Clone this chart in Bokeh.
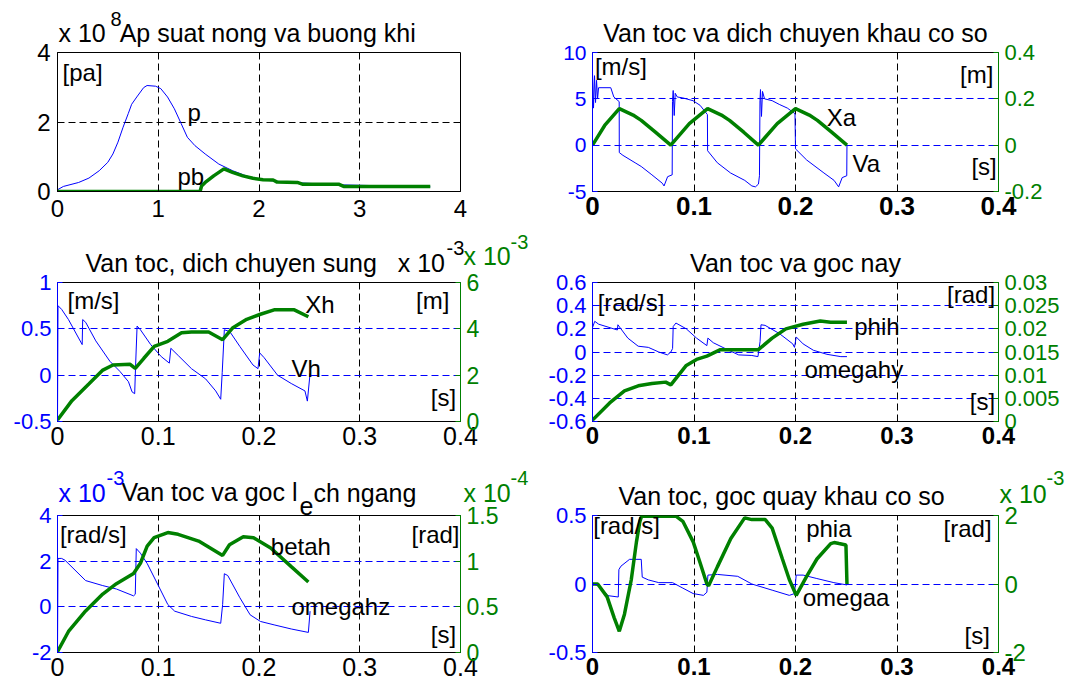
from bokeh.plotting import figure
from bokeh.models import Range1d, LinearAxis, FixedTicker, Label, Title
from bokeh.layouts import gridplot
from bokeh.embed import file_html
from bokeh.resources import INLINE

FONT = "Liberation Sans"
BLUE = "#0000ff"
GREEN = "#008000"
BLACK = "#000000"
NB = "\u00a0"

# ---------------- data ----------------
# Panel 1: pressure (x 1e8 Pa) vs time
p_t = [0.0, 0.058, 0.21, 0.312, 0.414, 0.499, 0.55, 0.60, 0.651, 0.702, 0.736, 0.787, 0.855, 0.889,
       0.974, 1.025, 1.092, 1.16, 1.228, 1.289, 1.364, 1.466, 1.601, 1.737, 1.873, 2.008, 2.31, 2.82, 3.70]
p_v = [0.05, 0.145, 0.26, 0.386, 0.598, 0.839, 1.08, 1.42, 1.85, 2.24, 2.51, 2.72, 2.99, 3.05,
       3.03, 2.96, 2.72, 2.38, 1.95, 1.56, 1.32, 1.08, 0.79, 0.60, 0.45, 0.34, 0.26, 0.19, 0.135]
pb_t = [0.0, 1.415, 1.43, 1.466, 1.55, 1.652, 1.737, 1.84, 1.94, 2.04, 2.14, 2.18, 2.38, 2.43, 2.79, 2.84, 3.70]
pb_v = [0.0, 0.0, 0.16, 0.26, 0.45, 0.65, 0.55, 0.45, 0.38, 0.34, 0.33, 0.27, 0.26, 0.21, 0.21, 0.145, 0.145]

# Panel 2: Va [m/s], Xa [m]
va_t = [0.0, 0.0, 0.001, 0.002, 0.003, 0.004, 0.005, 0.006, 0.018, 0.021, 0.0263, 0.0264, 0.030, 0.042,
        0.048, 0.0585, 0.0687, 0.0705, 0.074, 0.0785, 0.0788, 0.0795, 0.0805, 0.0815, 0.0835, 0.089, 0.099,
        0.106, 0.1132, 0.1134, 0.123, 0.136, 0.150, 0.157, 0.1605, 0.1635, 0.1645, 0.165, 0.1655, 0.1665,
        0.1675, 0.1695, 0.177, 0.184, 0.192, 0.1995, 0.2, 0.211, 0.228, 0.238, 0.2425, 0.246, 0.2505, 0.2507]
va_v = [-5.0, 7.8, 4.0, 7.5, 4.6, 7.0, 5.0, 6.2, 6.2, 5.2, 4.7, -0.8, -1.1, -1.9,
        -2.3, -3.2, -4.1, -4.4, -3.4, -3.2, 4.7, 5.9, 3.2, 5.6, 5.2, 5.1, 4.8,
        4.3, 3.3, -0.6, -1.9, -3.0, -3.8, -4.4, -4.5, -4.2, -3.3, 4.8, 6.0, 3.1,
        5.8, 5.0, 4.8, 4.4, 4.0, 3.4, -0.4, -1.6, -3.0, -3.8, -4.5, -3.5, -3.3, 0.0]
xa_t = [0.0, 0.012, 0.0264, 0.040, 0.048, 0.062, 0.0771, 0.0954, 0.1134, 0.127, 0.135, 0.149,
        0.1634, 0.182, 0.2, 0.2136, 0.2216, 0.2356, 0.2507]
xa_v = [0.0, 0.085, 0.158, 0.13, 0.107, 0.056, 0.0, 0.093, 0.158, 0.13, 0.107, 0.056,
        0.0, 0.093, 0.158, 0.13, 0.107, 0.056, 0.0]

# Panel 3: Vh [m/s], Xh [x 1e-3 m]
vh_t = [0.0, 0.0005, 0.0041, 0.0109, 0.0245, 0.025, 0.028, 0.038, 0.052, 0.062, 0.0704, 0.074, 0.0766,
        0.0775, 0.079, 0.0823, 0.0925, 0.103, 0.111, 0.1125, 0.12, 0.133, 0.147, 0.157, 0.162, 0.1635,
        0.1656, 0.171, 0.181, 0.194, 0.199, 0.2007, 0.205, 0.2184, 0.232, 0.2456, 0.248, 0.2507]
vh_v = [-0.5, 0.75, 0.71, 0.6, 0.33, 0.6, 0.57, 0.37, 0.15, 0.04, -0.07, -0.18, -0.2,
        0.1, 0.53, 0.49, 0.33, 0.2, 0.13, 0.29, 0.21, 0.07, -0.04, -0.17, -0.26, 0.03,
        0.49, 0.47, 0.31, 0.11, 0.07, 0.24, 0.19, 0.0, -0.09, -0.17, -0.28, 0.02]
xh_t = [0.0, 0.0143, 0.0313, 0.045, 0.0551, 0.0721, 0.0772, 0.0857, 0.096, 0.1095, 0.1231, 0.133,
        0.150, 0.1639, 0.1741, 0.1878, 0.2014, 0.215, 0.235, 0.249]
xh_v = [0.07, 0.9, 1.63, 2.22, 2.44, 2.47, 2.29, 2.73, 3.24, 3.46, 3.83, 3.86,
        3.86, 3.53, 4.05, 4.41, 4.63, 4.82, 4.82, 4.52]

# Panel 4: omegahy [rad/s], phih [rad]
wy_t = [0.0, 0.0022, 0.0061, 0.0245, 0.025, 0.0348, 0.045, 0.055, 0.0653, 0.0738, 0.0772, 0.0789,
        0.0795, 0.0822, 0.0924, 0.1025, 0.1127, 0.1137, 0.119, 0.133, 0.144, 0.157, 0.163, 0.1651,
        0.166, 0.170, 0.184, 0.1973, 0.199, 0.2007, 0.2075, 0.2176, 0.231, 0.2447, 0.2507]
wy_v = [0.21, 0.265, 0.24, 0.19, 0.235, 0.12, 0.05, 0.04, 0.0, -0.025, 0.0, 0.03,
        0.22, 0.25, 0.2, 0.12, 0.055, 0.12, 0.08, 0.02, -0.025, -0.03, -0.04, 0.09,
        0.235, 0.23, 0.16, 0.07, 0.04, 0.13, 0.07, 0.015, -0.02, -0.04, -0.04]
ph_t = [0.0, 0.0169, 0.0315, 0.0451, 0.0585, 0.0721, 0.0772, 0.0924, 0.1025, 0.1127, 0.126, 0.1634,
        0.177, 0.1905, 0.2075, 0.2244, 0.2345, 0.2507]
ph_v = [0.0003, 0.004, 0.0066, 0.0077, 0.0082, 0.0085, 0.0079, 0.0121, 0.0134, 0.0141, 0.0155, 0.0155,
        0.018, 0.020, 0.021, 0.0217, 0.0214, 0.0214]

# Panel 5: omegahz [x 1e-3 rad/s], betah [x 1e-4 rad]
wz_t = [0.0, 0.0005, 0.0041, 0.0075, 0.0279, 0.0449, 0.0585, 0.0755, 0.0772, 0.0782, 0.0823, 0.089,
        0.0993, 0.1095, 0.1163, 0.133, 0.1469, 0.162, 0.1639, 0.1656, 0.169, 0.181, 0.1912, 0.2014,
        0.215, 0.232, 0.249, 0.2507]
wz_v = [-2.0, 2.12, 2.12, 2.04, 1.15, 0.93, 0.78, 0.48, 0.55, 2.55, 2.35, 1.9,
        1.0, 0.1, -0.19, -0.42, -0.57, -0.72, 0.1, 1.45, 1.37, 0.4, -0.35, -0.64,
        -0.79, -0.97, -1.12, -0.19]
bh_t = [0.0, 0.0109, 0.0279, 0.0449, 0.0585, 0.0755, 0.0823, 0.089, 0.0959, 0.1095, 0.1197, 0.1401,
        0.1639, 0.1707, 0.1844, 0.1946, 0.2116, 0.232, 0.249]
bh_v = [0.008, 0.23, 0.455, 0.64, 0.753, 0.865, 0.977, 1.164, 1.257, 1.313, 1.294, 1.22,
        1.063, 1.18, 1.268, 1.257, 1.145, 0.94, 0.772]

# Panel 6: omegaa [rad/s], phia [x 1e-3 rad]
wa_t = [0.0, 0.0068, 0.0152, 0.0254, 0.026, 0.028, 0.0365, 0.048, 0.049, 0.055, 0.0653, 0.0789,
        0.089, 0.0992, 0.1093, 0.1127, 0.1137, 0.123, 0.1431, 0.157, 0.177, 0.1939, 0.199, 0.2007,
        0.2075, 0.221, 0.2378, 0.2507]
wa_v = [0.0, -0.013, -0.085, -0.095, 0.105, 0.13, 0.18, 0.18, 0.05, 0.03, 0.01, 0.01,
        -0.03, -0.07, -0.083, -0.06, 0.065, 0.07, 0.056, 0.0, -0.045, -0.083, -0.07, 0.065,
        0.065, 0.04, 0.01, -0.007]
pa_t = [0.0, 0.0051, 0.0144, 0.0213, 0.0264, 0.0315, 0.0382, 0.0433, 0.0467, 0.0484, 0.0822, 0.089,
        0.0992, 0.106, 0.1127, 0.1144, 0.123, 0.1363, 0.1499, 0.157, 0.1702, 0.177, 0.1871, 0.1939,
        0.2007, 0.211, 0.2211, 0.2347, 0.238, 0.2429, 0.2497, 0.2507]
pa_v = [0.0, 0.0, -0.376, -0.98, -1.38, -0.88, 0.125, 1.23, 1.83, 1.98, 1.98, 1.83,
        1.23, 0.62, 0.0, -0.05, 0.5, 1.33, 1.93, 1.88, 1.88, 1.63, 0.73, 0.13,
        -0.33, 0.22, 0.73, 1.18, 1.21, 1.18, 1.14, 0.0]

# tick values / labels
x4_ticks = [0, 1, 2, 3, 4]
x4_labels = ["0", "1", "2", "3", "4"]
x04_ticks = [0.0, 0.1, 0.2, 0.3, 0.4]
x04_labels = ["0", "0.1", "0.2", "0.3", "0.4"]
p1_yt = [0, 2, 4]
p1_yl = ["0", "2", "4"]
p2_yt = [-5, 0, 5, 10]
p2_yl = ["-5", "0", "5", "10"]
p2_rt = [-0.2, 0.0, 0.2, 0.4]
p2_rl = ["-0.2", "0", "0.2", "0.4"]
p3_yt = [-0.5, 0.0, 0.5, 1.0]
p3_yl = ["-0.5", "0", "0.5", "1"]
p3_rt = [0, 2, 4, 6]
p3_rl = ["0", "2", "4", "6"]
p4_yt = [-0.6, -0.4, -0.2, 0.0, 0.2, 0.4, 0.6]
p4_yl = ["-0.6", "-0.4", "-0.2", "0", "0.2", "0.4", "0.6"]
p4_rt = [0.0, 0.005, 0.01, 0.015, 0.02, 0.025, 0.03]
p4_rl = ["0", "0.005", "0.01", "0.015", "0.02", "0.025", "0.03"]
p5_yt = [-2, 0, 2, 4]
p5_yl = ["-2", "0", "2", "4"]
p5_rt = [0.0, 0.5, 1.0, 1.5]
p5_rl = ["0", "0.5", "1", "1.5"]
p6_yt = [-0.5, 0.0, 0.5]
p6_yl = ["-0.5", "0", "0.5"]
p6_rt = [-2, 0, 2]
p6_rl = ["-2", "0", "2"]

# text of titles / multipliers (MATLAB style "x 10" with raised exponent)
title1 = "x 10" + NB * 2 + "Ap suat nong va buong khi"
exp1 = "8"
title2 = "Van toc va dich chuyen khau co so"
title3 = "Van toc, dich chuyen sung" + NB * 3 + "x 10"
exp3 = "-3"
mult3 = "x 10"
exp3r = "-3"
title4 = "Van toc va goc nay"
title5 = ["Van toc va goc l", "e", "ch ngang"]
mult5 = "x 10"
exp5l = "-3"
exp5r = "-4"
title6 = "Van toc, goc quay khau co so"
mult6 = "x 10"
exp6 = "-3"

# ---------------- layout (pixels) ----------------
LW, RW = 536, 535
LB, RB = (57, 76), (56, 73)
ROWS = [(232, 52, 41), (230, 50, 41), (223, 53, 33)]  # (fig height, top border, bottom border)
LIFT = 7   # baseline correction for labels (px)


def make(col, row, xr, yr, yr2=None):
    w = LW if col == 0 else RW
    l, r = LB if col == 0 else RB
    h, tb, bb = ROWS[row]
    p = figure(width=w, height=h, x_range=Range1d(*xr), y_range=Range1d(*yr),
               output_backend="svg", toolbar_location=None, tools="",
               min_border_left=l, min_border_right=r, min_border_top=tb, min_border_bottom=bb)
    p.background_fill_color = "white"
    p.border_fill_color = "white"
    p.outline_line_color = BLACK
    p.outline_line_alpha = 1.0
    p.outline_line_width = 1
    if yr2 is not None:
        p.extra_y_ranges = {"r": Range1d(*yr2)}
        p.add_layout(LinearAxis(y_range_name="r"), "right")
    p._pxu = (yr[1] - yr[0]) / (h - tb - bb)
    return p


def style(ax, vals, labels, color, size, standoff, bold=False):
    ax.ticker = FixedTicker(ticks=vals)
    ax.major_label_overrides = dict(zip(vals, labels))
    ax.axis_line_color = color
    ax.major_tick_line_color = color
    ax.major_tick_in = 5
    ax.major_tick_out = 0
    ax.minor_tick_line_color = None
    ax.major_label_text_color = color
    ax.major_label_text_font = FONT
    ax.major_label_text_font_size = f"{size}px"
    ax.major_label_text_font_style = "bold" if bold else "normal"
    ax.major_label_standoff = standoff


def grids(p, xg, yg, ycolor):
    p.xgrid.ticker = FixedTicker(ticks=xg)
    p.xgrid.grid_line_color = BLACK
    p.xgrid.grid_line_dash = "7 4"
    p.xgrid.grid_line_width = 1
    p.ygrid.ticker = FixedTicker(ticks=yg)
    p.ygrid.grid_line_color = ycolor
    p.ygrid.grid_line_dash = "7 4"
    p.ygrid.grid_line_width = 1


def txt(p, x, y, s, size=24, align="left", color=BLACK):
    p.add_layout(Label(x=x, y=y + LIFT * p._pxu, text=s, text_font=FONT, text_font_size=f"{size}px",
                       text_align=align, text_baseline="alphabetic", text_color=color))


def ttl(p, s, align="left", offset=0, standoff=12, color=BLACK, size=25):
    # titles are stacked in the "above" panel, in the order they are added;
    # negative standoffs let later pieces share the same line as the first one
    t = Title(text=s, align=align, offset=offset, text_color=color, text_font=FONT,
              text_font_size=f"{size}px", text_font_style="normal", vertical_align="bottom")
    try:
        t.standoff = standoff
    except Exception:
        t.standoff = 0
    p.add_layout(t, "above")


SUP = 20  # exponent font size

# ---------------- panel 1 ----------------
p1 = make(0, 0, (0, 4), (0, 4))
style(p1.xaxis[0], x4_ticks, x4_labels, BLACK, 24, 8)
style(p1.yaxis[0], p1_yt, p1_yl, BLACK, 24, 7)
grids(p1, [1, 2, 3], [2], BLACK)
p1.line(p_t, p_v, line_color=BLUE, line_width=1)
p1.line(pb_t, pb_v, line_color=GREEN, line_width=3.5)
txt(p1, 0.05, 3.22, "[pa]")
txt(p1, 1.29, 2.07, "p")
txt(p1, 1.19, 0.23, "pb")
ttl(p1, title1, offset=1)
ttl(p1, exp1, offset=53, standoff=-31, size=SUP)

# ---------------- panel 2 ----------------
p2 = make(1, 0, (0, 0.4), (-5, 10), (-0.2, 0.4))
style(p2.xaxis[0], x04_ticks, x04_labels, BLACK, 26, 5, bold=True)
style(p2.yaxis[0], p2_yt, p2_yl, BLUE, 21, 6)
style(p2.yaxis[1], p2_rt, p2_rl, GREEN, 22, 6)
grids(p2, [0.1, 0.2, 0.3], [0, 5], BLUE)
p2.line(va_t, va_v, line_color=BLUE, line_width=1)
p2.line(xa_t, xa_v, line_color=GREEN, line_width=3.5, y_range_name="r")
txt(p2, 0.0024, 7.78, "[m/s]")
txt(p2, 0.395, 6.86, "[m]", align="right")
txt(p2, 0.2308, 2.19, "Xa")
txt(p2, 0.2562, -2.78, "Va")
txt(p2, 0.3983, -3.07, "[s]", align="right")
ttl(p2, title2, align="center")

# ---------------- panel 3 ----------------
p3 = make(0, 1, (0, 0.4), (-0.5, 1.0), (0, 6))
style(p3.xaxis[0], x04_ticks, x04_labels, BLACK, 25, 5)
style(p3.yaxis[0], p3_yt, p3_yl, BLUE, 22, 6)
style(p3.yaxis[1], p3_rt, p3_rl, GREEN, 23, 6)
grids(p3, [0.1, 0.2, 0.3], [0, 0.5], BLUE)
p3.line(vh_t, vh_v, line_color=BLUE, line_width=1)
p3.line(xh_t, xh_v, line_color=GREEN, line_width=3.5, y_range_name="r")
txt(p3, 0.0099, 0.727, "[m/s]")
txt(p3, 0.389, 0.727, "[m]", align="right")
txt(p3, 0.2458, 0.684, "Xh")
txt(p3, 0.2322, -0.003, "Vh")
txt(p3, 0.3956, -0.321, "[s]", align="right")
ttl(p3, title3, offset=28)
ttl(p3, exp3, offset=389, standoff=-29, size=SUP)
ttl(p3, mult3, offset=406, standoff=-59, color=GREEN)
ttl(p3, exp3r, offset=453, standoff=-17, color=GREEN, size=SUP)

# ---------------- panel 4 ----------------
p4 = make(1, 1, (0, 0.4), (-0.6, 0.6), (0, 0.03))
style(p4.xaxis[0], x04_ticks, x04_labels, BLACK, 24, 5, bold=True)
style(p4.yaxis[0], p4_yt, p4_yl, BLUE, 22, 6)
style(p4.yaxis[1], p4_rt, p4_rl, GREEN, 22, 6)
grids(p4, [0.1, 0.2, 0.3], [-0.4, -0.2, 0.0, 0.2, 0.4], BLUE)
p4.line(wy_t, wy_v, line_color=BLUE, line_width=1)
p4.line(ph_t, ph_v, line_color=GREEN, line_width=3.5, y_range_name="r")
txt(p4, 0.0051, 0.363, "[rad/s]")
txt(p4, 0.3966, 0.437, "[rad]", align="right")
txt(p4, 0.2579, 0.157, "phih")
txt(p4, 0.2088, -0.21, "omegahy")
txt(p4, 0.3966, -0.49, "[s]", align="right")
ttl(p4, title4, align="center")

# ---------------- panel 5 ----------------
p5 = make(0, 2, (0, 0.4), (-2, 4), (0, 1.5))
style(p5.xaxis[0], x04_ticks, x04_labels, BLACK, 25, 5)
style(p5.yaxis[0], p5_yt, p5_yl, BLUE, 22, 6)
style(p5.yaxis[1], p5_rt, p5_rl, GREEN, 23, 6)
grids(p5, [0.1, 0.2, 0.3], [0, 2], BLUE)
p5.line(wz_t, wz_v, line_color=BLUE, line_width=1)
p5.line(bh_t, bh_v, line_color=GREEN, line_width=3.5, y_range_name="r")
txt(p5, 0.0024, 2.865, "[rad/s]")
txt(p5, 0.399, 2.865, "[rad]", align="right")
txt(p5, 0.2117, 2.353, "betah")
txt(p5, 0.2322, -0.28, "omegahz")
txt(p5, 0.3956, -1.525, "[s]", align="right")
ttl(p5, title5[0], offset=64, standoff=20)
ttl(p5, title5[1], offset=242, standoff=-98)
ttl(p5, title5[2], offset=256, standoff=-83)
ttl(p5, mult5, offset=1, standoff=-83, color=BLUE)
ttl(p5, mult5, offset=406, standoff=-83, color=GREEN)
ttl(p5, exp5l, offset=49, standoff=-39, color=BLUE, size=SUP)
ttl(p5, exp5r, offset=453, standoff=-39, color=GREEN, size=SUP)

# ---------------- panel 6 ----------------
p6 = make(1, 2, (0, 0.4), (-0.5, 0.5), (-2, 2))
style(p6.xaxis[0], x04_ticks, x04_labels, BLACK, 24, 5, bold=True)
style(p6.yaxis[0], p6_yt, p6_yl, BLUE, 22, 6)
style(p6.yaxis[1], p6_rt, p6_rl, GREEN, 24, 6)
grids(p6, [0.1, 0.2, 0.3], [0.0], BLUE)
p6.line(wa_t, wa_v, line_color=BLUE, line_width=1)
p6.line(pa_t, pa_v, line_color=GREEN, line_width=3.5, y_range_name="r")
txt(p6, 0.0007, 0.376, "[rad/s]")
txt(p6, 0.3932, 0.351, "[rad]", align="right")
txt(p6, 0.2105, 0.351, "phia")
txt(p6, 0.2071, -0.148, "omegaa")
txt(p6, 0.3915, -0.424, "[s]", align="right")
ttl(p6, title6, offset=26)
ttl(p6, mult6, offset=407, standoff=-68, color=GREEN)
ttl(p6, exp6, offset=454, standoff=-23, color=GREEN, size=SUP)

grid = gridplot([[p1, p2], [p3, p4], [p5, p6]], toolbar_location=None)

open("out.html", "w").write(file_html(grid, INLINE))
